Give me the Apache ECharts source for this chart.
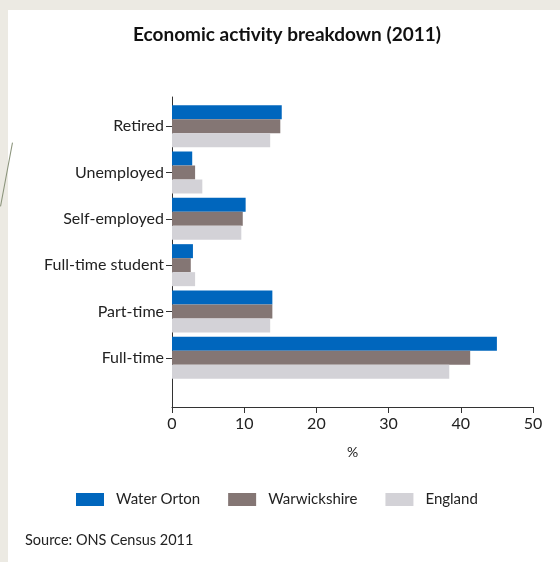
<!DOCTYPE html>
<html>
<head>
<meta charset="utf-8">
<script src="https://cdn.jsdelivr.net/npm/echarts@6/dist/echarts.min.js"></script>
<style>
  html, body { margin: 0; padding: 0; }
  body { width: 560px; height: 562px; background: #eceae3; position: relative; overflow: hidden; }
  .panel { position: absolute; left: 8px; top: 10px; width: 552px; height: 552px; background: #ffffff; }
  .deco { position: absolute; left: 6px; top: 142px; width: 1.2px; height: 65px; background: #8a937a; transform: rotate(10.6deg); }
  #chart { position: absolute; left: 0; top: 0; width: 560px; height: 562px; }
</style>
</head>
<body>
<div class="panel"></div>
<div class="deco"></div>
<div id="chart"></div>
<script>
  // values (percent)
  const categories = ['Retired', 'Unemployed', 'Self-employed', 'Full-time student', 'Part-time', 'Full-time'];
  const waterOrton = [15.2, 2.8, 10.2, 2.9, 13.9, 45.0];
  const warwickshire = [15.0, 3.2, 9.8, 2.6, 13.9, 41.3];
  const england = [13.6, 4.2, 9.6, 3.2, 13.6, 38.4];
  const xMin = 0, xMax = 50, xStep = 10;

  const FONT = 'Lato';
  const TEXT = '#222222';
  const AXIS = '#333333';

  let myChart = echarts.init(document.getElementById('chart'));

  function barSeries(name, data, color) {
    return {
      name: name,
      type: 'bar',
      xAxisIndex: 0,
      yAxisIndex: 0,
      data: data,
      barWidth: 14,
      barGap: '0%',
      itemStyle: { color: color },
      emphasis: { disabled: true }
    };
  }

  let option = {
    backgroundColor: 'transparent',
    animation: false,
    textStyle: { fontFamily: FONT },
    title: [
      {
        text: 'Economic activity breakdown (2011)',
        left: 287,
        textAlign: 'center',
        top: 25,
        padding: 0,
        textStyle: { fontFamily: FONT, fontSize: 19, fontWeight: 'bold', color: '#111111' }
      },
      {
        text: 'Source: ONS Census 2011',
        left: 25,
        top: 533,
        padding: 0,
        textStyle: { fontFamily: FONT, fontSize: 14.5, fontWeight: 'normal', color: TEXT }
      }
    ],
    legend: {
      left: 76,
      top: 492,
      padding: 0,
      itemWidth: 28,
      itemHeight: 13,
      itemGap: 28,
      icon: 'rect',
      textStyle: { fontFamily: FONT, fontSize: 15, color: TEXT, padding: [0, 0, 0, 7] },
      data: ['Water Orton', 'Warwickshire', 'England']
    },
    grid: [
      // bars area
      { left: 172, right: 27, top: 103, bottom: 181 },
      // axis frame (extends below the last category)
      { left: 172, right: 27, top: 97, bottom: 155 }
    ],
    xAxis: [
      {
        gridIndex: 0,
        type: 'value',
        min: xMin,
        max: xMax,
        show: false
      },
      {
        gridIndex: 1,
        type: 'value',
        min: xMin,
        max: xMax,
        interval: xStep,
        name: '%',
        nameLocation: 'middle',
        nameGap: 38,
        nameTextStyle: { fontFamily: FONT, fontSize: 14, color: TEXT },
        axisLine: { show: true, lineStyle: { color: AXIS, width: 1 } },
        axisTick: { show: true, length: 6, lineStyle: { color: AXIS } },
        axisLabel: { fontFamily: FONT, fontSize: 16, color: TEXT, margin: 9 },
        splitLine: { show: false }
      }
    ],
    yAxis: [
      {
        gridIndex: 0,
        type: 'category',
        inverse: true,
        data: categories,
        axisLine: { show: false },
        axisTick: { show: true, length: 6, alignWithLabel: true, lineStyle: { color: AXIS } },
        axisLabel: { fontFamily: FONT, fontSize: 16, color: TEXT, margin: 8 },
        splitLine: { show: false }
      },
      {
        gridIndex: 1,
        type: 'value',
        min: 0,
        max: 1,
        axisLine: { show: true, lineStyle: { color: AXIS, width: 1 } },
        axisTick: { show: false },
        axisLabel: { show: false },
        splitLine: { show: false }
      }
    ],
    series: [
      barSeries('Water Orton', waterOrton, '#0066bd'),
      barSeries('Warwickshire', warwickshire, '#847674'),
      barSeries('England', england, '#d3d2d7')
    ]
  };
  option && myChart.setOption(option);
</script>
</body>
</html>
